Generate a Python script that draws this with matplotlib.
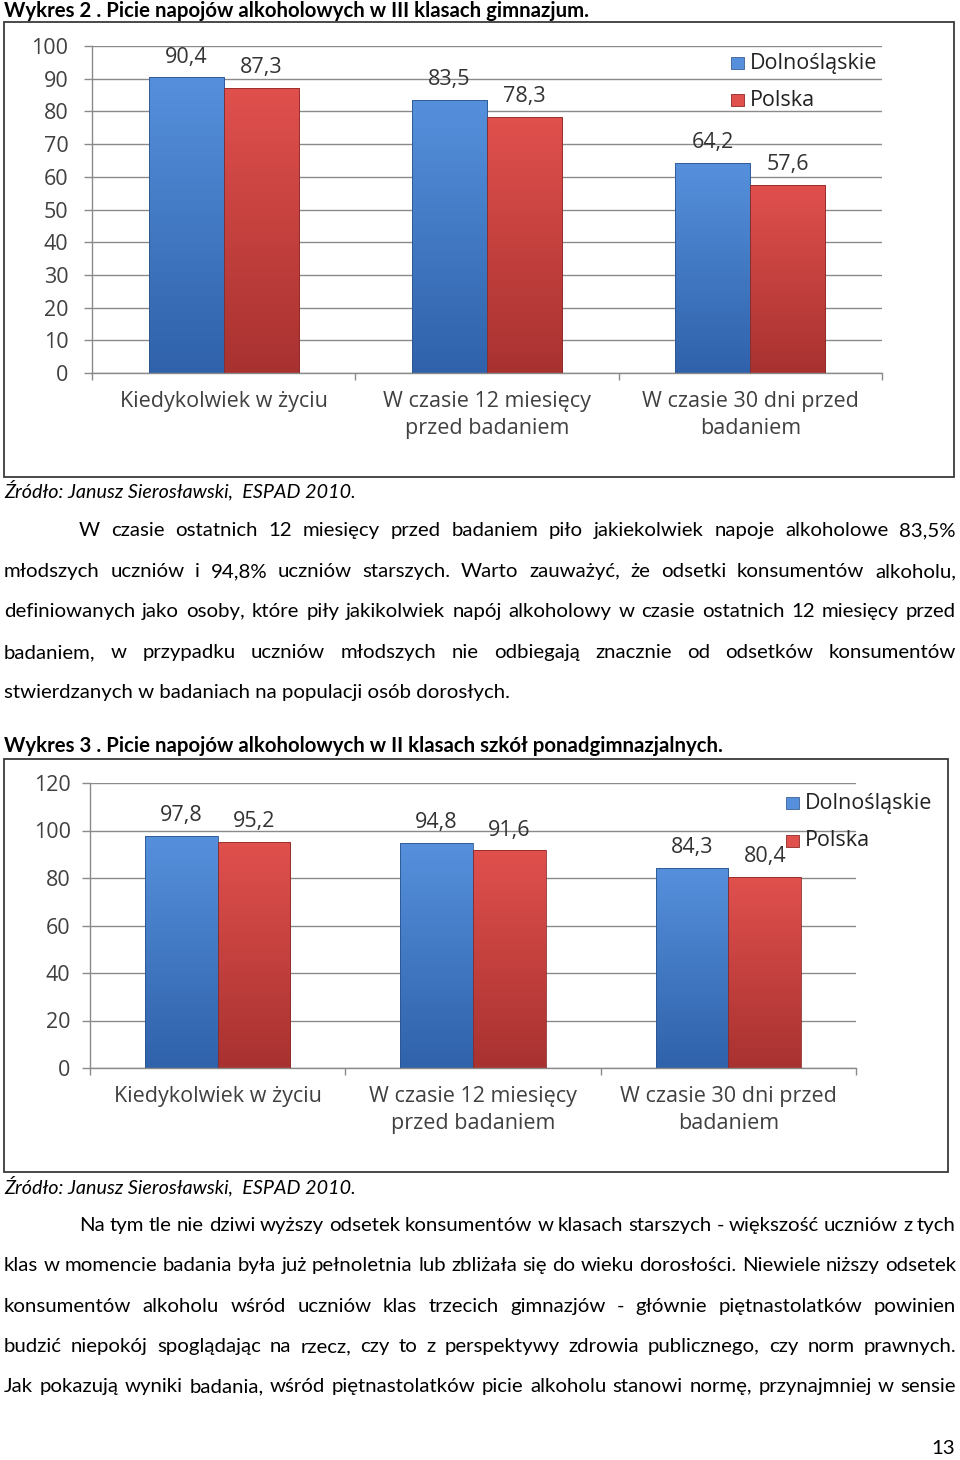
import numpy as np
import matplotlib
matplotlib.use("Agg")
import matplotlib.pyplot as plt
from matplotlib.patches import Rectangle
from matplotlib.colors import LinearSegmentedColormap

# ---------------- data ----------------
categories = ["Kiedykolwiek w życiu", "W czasie 12 miesięcy\nprzed badaniem", "W czasie 30 dni przed\nbadaniem"]
series_names = ["Dolnośląskie", "Polska"]

dolnoslaskie_gim = [90.4, 83.5, 64.2]
polska_gim = [87.3, 78.3, 57.6]
yticks_gim = list(range(0, 101, 10))

dolnoslaskie_pon = [97.8, 94.8, 84.3]
polska_pon = [95.2, 91.6, 80.4]
yticks_pon = list(range(0, 121, 20))

title_1 = "Wykres 2 . Picie napojów alkoholowych w III klasach gimnazjum."
title_2 = "Wykres 3 . Picie napojów alkoholowych w II klasach szkół ponadgimnazjalnych."
source_text = "Źródło: Janusz Sierosławski,  ESPAD 2010."

para_1 = [
    "W czasie ostatnich 12 miesięcy przed badaniem piło jakiekolwiek napoje alkoholowe 83,5%",
    "młodszych uczniów i 94,8% uczniów starszych. Warto zauważyć, że odsetki konsumentów alkoholu,",
    "definiowanych jako osoby, które piły jakikolwiek napój alkoholowy w czasie ostatnich 12 miesięcy przed",
    "badaniem, w przypadku uczniów młodszych nie odbiegają znacznie od odsetków konsumentów",
    "stwierdzanych w badaniach na populacji osób dorosłych.",
]
para_2 = [
    "Na tym tle nie dziwi wyższy odsetek konsumentów w klasach starszych - większość uczniów z tych",
    "klas w momencie badania była już pełnoletnia lub zbliżała się do wieku dorosłości. Niewiele niższy odsetek",
    "konsumentów alkoholu wśród uczniów klas trzecich gimnazjów - głównie piętnastolatków powinien",
    "budzić niepokój spoglądając na rzecz, czy to z perspektywy zdrowia publicznego, czy norm prawnych.",
    "Jak pokazują wyniki badania, wśród piętnastolatków picie alkoholu stanowi normę, przynajmniej w sensie",
]
page_number = "13"

# ---------------- style ----------------
W, H = 960, 1460
BODY = ["Lato", "DejaVu Sans"]
CHART = ["Open Sans", "DejaVu Sans"]
BLUE_TOP, BLUE_BOT = "#5690dc", "#2f62aa"
RED_TOP, RED_BOT = "#e0504d", "#a83230"
GRID = "#8a8a8a"
TXT = "#404040"
FS_BODY = 14.7
FS_CHART = 15.5

fig = plt.figure(figsize=(W / 100, H / 100), dpi=100, facecolor="white")
renderer = fig.canvas.get_renderer()


def P(x, y):
    return (x / W, 1 - y / H)


def text_line(s, x0, yb, x1=None, justify=False, **kw):
    if not justify:
        fig.text(*P(x0, yb), s, ha="left", va="baseline", **kw)
        return
    words = s.split(" ")
    objs = [fig.text(0, 0, w, ha="left", va="baseline", **kw) for w in words]
    widths = [o.get_window_extent(renderer).width for o in objs]
    gap = (x1 - x0 - sum(widths)) / (len(words) - 1)
    x = x0
    for o, w in zip(objs, widths):
        o.set_position(P(x, yb))
        x += w + gap


def frame(x0, y0, x1, y1):
    fig.patches.append(Rectangle(P(x0, y1), (x1 - x0) / W, (y1 - y0) / H,
                                 transform=fig.transFigure, fill=False,
                                 edgecolor="#3a3a3a", lw=1.3))


def gradient_bars(ax, bars, top, bot):
    cmap = LinearSegmentedColormap.from_list("g", [top, bot])
    grad = np.linspace(0, 1, 200)[:, None]
    for b in bars:
        x0, w, h = b.get_x(), b.get_width(), b.get_height()
        im = ax.imshow(grad, extent=[x0, x0 + w, 0, h], origin="upper",
                       cmap=cmap, aspect="auto", zorder=2, interpolation="bilinear")
        im.set_clip_path(b)


def chart(box, rect, xright, values_a, values_b, yticks, ylim, ypad, legend_pos):
    frame(*box)
    l, t, r, b = rect
    ax = fig.add_axes([l / W, 1 - b / H, (r - l) / W, (b - t) / H])
    x = np.arange(len(categories))
    bw = 0.285
    bars_a = ax.bar(x - bw / 2, values_a, bw, color=BLUE_BOT, edgecolor="#2a558f",
                    lw=0.6, zorder=3)
    bars_b = ax.bar(x + bw / 2, values_b, bw, color=RED_BOT, edgecolor="#8f2a28",
                    lw=0.6, zorder=3)
    for bars in (bars_a, bars_b):
        for p in bars:
            p.set_facecolor("none")
    gradient_bars(ax, bars_a, BLUE_TOP, BLUE_BOT)
    gradient_bars(ax, bars_b, RED_TOP, RED_BOT)
    for bars, vals in ((bars_a, values_a), (bars_b, values_b)):
        for p, v in zip(bars, vals):
            ax.annotate(f"{v:.1f}".replace(".", ","),
                        (p.get_x() + p.get_width() / 2, v),
                        xytext=(0, 14.5), textcoords="offset points",
                        ha="center", va="center", fontsize=FS_CHART,
                        family=CHART, color="#333333", zorder=5)
    ax.set_xlim(-0.5, xright)
    ax.set_ylim(*ylim)
    ax.set_yticks(yticks)
    ax.set_yticklabels([str(v) for v in yticks], family=CHART, fontsize=FS_CHART,
                       color=TXT)
    ax.set_xticks(x)
    ax.set_xticklabels(categories, family=CHART, fontsize=FS_CHART, color=TXT,
                       linespacing=1.35)
    ax.set_xticks(np.arange(-0.5, len(categories), 1.0), minor=True)
    ax.tick_params(axis="x", which="major", length=0, pad=13)
    ax.tick_params(axis="x", which="minor", length=5, color=GRID, width=1)
    ax.tick_params(axis="y", length=6, color=GRID, width=1, pad=ypad)
    ax.yaxis.grid(True, color=GRID, lw=1)
    ax.set_axisbelow(True)
    for s in ("top", "right"):
        ax.spines[s].set_visible(False)
    for s in ("left", "bottom"):
        ax.spines[s].set_color(GRID)
        ax.spines[s].set_linewidth(1)
    ax.patch.set_alpha(0)
    # legend
    lx, ly1, ly2 = legend_pos
    for name, col, yy in ((series_names[0], BLUE_TOP, ly1), (series_names[1], RED_TOP, ly2)):
        fig.patches.append(Rectangle(P(lx, yy + 6), 13 / W, 12 / H,
                                     transform=fig.transFigure,
                                     facecolor=col, edgecolor="#3a5f90" if col == BLUE_TOP else "#8f2a28",
                                     lw=0.6))
        fig.text(*P(lx + 19, yy), name, ha="left", va="center", family=CHART,
                 fontsize=FS_CHART, color="#222222")
    return ax


# ---------------- page text ----------------
text_line(title_1, 4, 17, family=BODY, fontsize=FS_BODY, fontweight="bold", color="black")
chart((4, 22, 954, 477), (92, 46, 882, 373), -0.5 + 790 / 271,
      dolnoslaskie_gim, polska_gim, yticks_gim, (0, 100), 11, (731, 63, 100))
text_line(source_text, 4, 497, family=BODY, fontsize=14.2, style="italic", color="black")

ys = [536, 577, 617, 658, 698]
for i, (line, yb) in enumerate(zip(para_1, ys)):
    x0 = 79 if i == 0 else 4
    text_line(line, x0, yb, 956, justify=(i < len(para_1) - 1),
              family=BODY, fontsize=FS_BODY, color="black")

text_line(title_2, 4, 752, family=BODY, fontsize=FS_BODY, fontweight="bold", color="black")
chart((4, 759, 948, 1172), (90, 783, 856, 1068), 2.5,
      dolnoslaskie_pon, polska_pon, yticks_pon, (0, 120), 8, (786, 803, 841))
text_line(source_text, 4, 1193, family=BODY, fontsize=14.2, style="italic", color="black")

ys2 = [1231, 1271, 1312, 1352, 1392]
for i, (line, yb) in enumerate(zip(para_2, ys2)):
    x0 = 79 if i == 0 else 4
    text_line(line, x0, yb, 956, justify=True, family=BODY, fontsize=FS_BODY, color="black")

fig.text(*P(955, 1454), page_number, ha="right", va="baseline", family=BODY,
         fontsize=FS_BODY, color="black")

fig.savefig("out.png", dpi=100, facecolor="white")
